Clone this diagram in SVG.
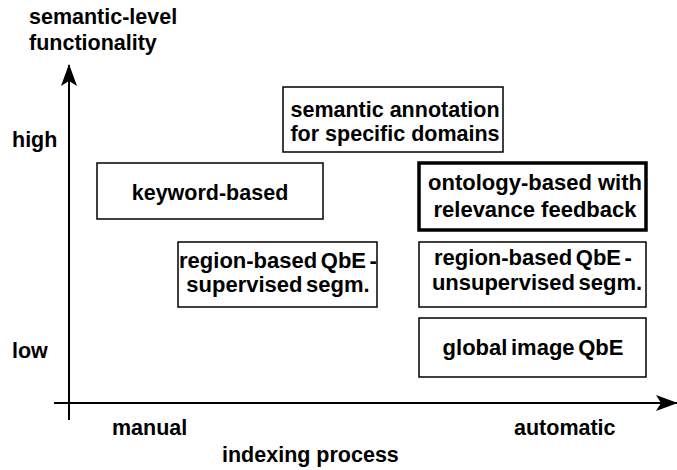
<svg xmlns="http://www.w3.org/2000/svg" width="677" height="470" viewBox="0 0 677 470">
  <style>
    text { font-family: "Liberation Sans", Arial, sans-serif; font-weight: bold; font-size: 21.5px; fill: #000; }
    .c { text-anchor: middle; }
    .w { font-size: 22px; }
    .tight { word-spacing: -2.5px; }
    .box { fill: #fff; stroke: #000; stroke-width: 1.5; }
    .thick { stroke-width: 3.5; }
    .axis { stroke: #000; stroke-width: 2; fill: none; }
  </style>
  <defs>
    <!-- notched arrowhead shared by both axes -->
    <marker id="arrow" viewBox="0 0 22 18" refX="21" refY="9" markerWidth="22" markerHeight="18" markerUnits="userSpaceOnUse" orient="auto">
      <path d="M0,1 L22,9 L0,17 L5,9 Z" fill="#000"/>
    </marker>
  </defs>

  <!-- axes -->
  <g id="connectors">
    <line class="axis" x1="69" y1="420" x2="69" y2="65" marker-end="url(#arrow)"/>
    <line class="axis" x1="54" y1="403" x2="677" y2="403" marker-end="url(#arrow)"/>
  </g>

  <!-- axis labels -->
  <g id="labels">
    <text x="29" y="24">semantic-level</text>
    <text x="29" y="50">functionality</text>
    <text x="12" y="147">high</text>
    <text x="12" y="358">low</text>
    <text x="112" y="435">manual</text>
    <text x="514" y="435">automatic</text>
    <text x="222" y="462">indexing process</text>
  </g>

  <g id="semantic-annotation">
    <rect class="box" x="283" y="87" width="220" height="65"/>
    <text class="c" x="395" y="117">semantic annotation</text>
    <text class="c" x="395" y="141">for specific domains</text>
  </g>

  <g id="keyword-based">
    <rect class="box" x="97" y="163" width="226" height="56"/>
    <text class="c" x="210" y="200">keyword-based</text>
  </g>

  <g id="ontology-based">
    <rect class="box thick" x="419" y="163" width="227" height="67"/>
    <text class="c w" x="535" y="190">ontology-based with</text>
    <text class="c w" x="535" y="217">relevance feedback</text>
  </g>

  <g id="region-supervised">
    <rect class="box" x="178" y="242" width="199" height="65"/>
    <text class="c w tight" x="278" y="268">region-based QbE -</text>
    <text class="c w tight" x="278" y="292">supervised segm.</text>
  </g>

  <g id="region-unsupervised">
    <rect class="box" x="419" y="242" width="227" height="65"/>
    <text class="c w tight" x="533" y="265">region-based QbE -</text>
    <text class="c w tight" x="537" y="290">unsupervised segm.</text>
  </g>

  <g id="global-image">
    <rect class="box" x="419" y="318" width="227" height="59"/>
    <text class="c w tight" x="533" y="355">global image QbE</text>
  </g>
</svg>
